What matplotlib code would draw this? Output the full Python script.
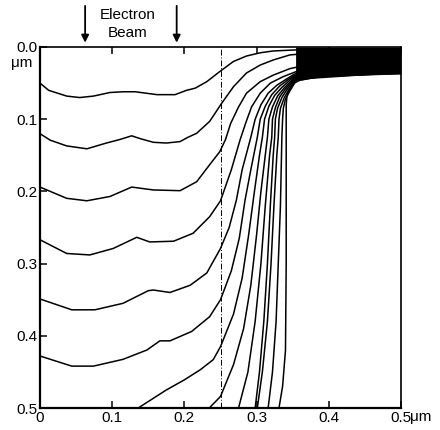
import matplotlib
matplotlib.use("Agg")
import matplotlib.pyplot as plt

plt.rcParams['font.family'] = ['Liberation Sans', 'DejaVu Sans']

# Development-front contours (x in um, depth in um)
front_01 = [(0.000, 0.050), (0.012, 0.060), (0.037, 0.068), (0.055, 0.070), (0.074, 0.068),
            (0.097, 0.063), (0.115, 0.062), (0.132, 0.062), (0.162, 0.066), (0.187, 0.066),
            (0.203, 0.060), (0.215, 0.057), (0.231, 0.048), (0.249, 0.034), (0.268, 0.020),
            (0.286, 0.0125), (0.305, 0.008), (0.323, 0.0055), (0.355, 0.004), (0.5, 0.003)]
front_02 = [(0.000, 0.120), (0.014, 0.129), (0.037, 0.137), (0.065, 0.141), (0.092, 0.133),
            (0.111, 0.128), (0.127, 0.123), (0.139, 0.127), (0.157, 0.132), (0.175, 0.133),
            (0.194, 0.131), (0.205, 0.125), (0.217, 0.1195), (0.235, 0.103), (0.2516, 0.078),
            (0.268, 0.055), (0.286, 0.036), (0.305, 0.025), (0.323, 0.018), (0.346, 0.011),
            (0.38, 0.008), (0.5, 0.006)]
front_03 = [(0.000, 0.194), (0.037, 0.2096), (0.065, 0.213), (0.097, 0.207), (0.127, 0.194),
            (0.157, 0.198), (0.194, 0.199), (0.217, 0.1866), (0.235, 0.163), (0.249, 0.145),
            (0.257, 0.128), (0.264, 0.106), (0.275, 0.083), (0.286, 0.064), (0.305, 0.048),
            (0.323, 0.039), (0.346, 0.030), (0.36, 0.027), (0.5, 0.012)]
front_04 = [(0.000, 0.267), (0.037, 0.286), (0.069, 0.288), (0.1015, 0.279), (0.134, 0.2636),
            (0.152, 0.270), (0.185, 0.269), (0.212, 0.258), (0.235, 0.235), (0.250, 0.213),
            (0.265, 0.170), (0.277, 0.129), (0.285, 0.105), (0.293, 0.083), (0.305, 0.064),
            (0.319, 0.050), (0.337, 0.041), (0.355, 0.034), (0.5, 0.016)]
front_05 = [(0.000, 0.349), (0.044, 0.364), (0.076, 0.364), (0.115, 0.355), (0.150, 0.3375),
            (0.157, 0.3366), (0.180, 0.340), (0.208, 0.330), (0.231, 0.313), (0.250, 0.279),
            (0.262, 0.250), (0.272, 0.212), (0.280, 0.170), (0.292, 0.125), (0.298, 0.100),
            (0.306, 0.080), (0.316, 0.064), (0.328, 0.053), (0.342, 0.044), (0.355, 0.036),
            (0.5, 0.019)]
front_06 = [(0.000, 0.428), (0.044, 0.442), (0.074, 0.442), (0.115, 0.4326), (0.148, 0.4197),
            (0.166, 0.407), (0.180, 0.407), (0.210, 0.394), (0.235, 0.3735), (0.250, 0.350),
            (0.265, 0.310), (0.276, 0.265), (0.284, 0.212), (0.292, 0.170), (0.301, 0.125),
            (0.305, 0.100), (0.312, 0.082), (0.321, 0.066), (0.332, 0.054), (0.344, 0.045),
            (0.355, 0.038), (0.5, 0.022)]
front_07 = [(0.136, 0.500), (0.175, 0.475), (0.200, 0.461), (0.222, 0.447), (0.240, 0.433),
            (0.250, 0.415), (0.268, 0.370), (0.280, 0.320), (0.289, 0.260), (0.297, 0.200),
            (0.304, 0.150), (0.308, 0.125), (0.311, 0.100), (0.317, 0.082), (0.325, 0.067),
            (0.335, 0.056), (0.346, 0.046), (0.355, 0.039), (0.5, 0.025)]
front_08 = [(0.2345, 0.500), (0.250, 0.484), (0.268, 0.440), (0.282, 0.390), (0.292, 0.330),
            (0.300, 0.260), (0.306, 0.200), (0.312, 0.150), (0.315, 0.125), (0.317, 0.100),
            (0.322, 0.083), (0.329, 0.068), (0.338, 0.057), (0.348, 0.047), (0.355, 0.040),
            (0.5, 0.027)]
front_09 = [(0.275, 0.500), (0.288, 0.450), (0.298, 0.380), (0.306, 0.300), (0.312, 0.220),
            (0.318, 0.150), (0.321, 0.125), (0.322, 0.100), (0.326, 0.084), (0.332, 0.069),
            (0.340, 0.058), (0.349, 0.048), (0.355, 0.041), (0.5, 0.029)]
front_10 = [(0.298, 0.500), (0.304, 0.450), (0.310, 0.380), (0.315, 0.300), (0.319, 0.220),
            (0.323, 0.150), (0.325, 0.125), (0.326, 0.100), (0.329, 0.085), (0.335, 0.070),
            (0.342, 0.059), (0.350, 0.049), (0.355, 0.042), (0.5, 0.031)]
front_11 = [(0.301, 0.500), (0.308, 0.450), (0.315, 0.380), (0.320, 0.300), (0.324, 0.220),
            (0.328, 0.150), (0.330, 0.125), (0.331, 0.100), (0.333, 0.085), (0.338, 0.071),
            (0.344, 0.060), (0.351, 0.050), (0.355, 0.043), (0.5, 0.033)]
front_12 = [(0.316, 0.500), (0.322, 0.450), (0.327, 0.380), (0.330, 0.300), (0.333, 0.220),
            (0.335, 0.125), (0.336, 0.100), (0.337, 0.085), (0.340, 0.072), (0.346, 0.061),
            (0.352, 0.051), (0.356, 0.0445), (0.5, 0.035)]
front_13 = [(0.331, 0.500), (0.336, 0.470), (0.340, 0.420), (0.341, 0.300), (0.341, 0.125),
            (0.341, 0.100), (0.341, 0.080), (0.342, 0.068), (0.346, 0.058), (0.352, 0.050),
            (0.360, 0.046), (0.388, 0.041), (0.434, 0.039), (0.5, 0.037)]

fronts = [front_01, front_02, front_03, front_04, front_05, front_06, front_07,
          front_08, front_09, front_10, front_11, front_12, front_13]

# Dense band of fronts along the unexposed surface
band_x = [0.354, 0.360, 0.388, 0.434, 0.5]
band_bottom = [0.046, 0.046, 0.041, 0.039, 0.037]

beam_edges = [0.0625, 0.1893]
mask_edge = 0.25

x_ticks = [0, 0.1, 0.2, 0.3, 0.4, 0.5]
x_labels = ['0', '0.1', '0.2', '0.3', '0.4', '0.5']
y_ticks = [0.0, 0.1, 0.2, 0.3, 0.4, 0.5]
y_labels = ['0.0', '0.1', '0.2', '0.3', '0.4', '0.5']

fig = plt.figure(figsize=(4.4, 4.3), dpi=100)
ax = fig.add_axes([40 / 440, 22 / 430, 361 / 440, 361 / 430])

for f in fronts:
    xs = [p[0] for p in f]
    ys = [p[1] for p in f]
    ax.plot(xs, ys, color='black', lw=1.1, solid_joinstyle='round')

ax.fill_between(band_x, 0, band_bottom, color='black', lw=0)

ax.axvline(mask_edge, color='black', lw=0.7, linestyle=(0, (6, 2, 1, 2)))

ax.set_xlim(0, 0.5)
ax.set_ylim(0.5, 0)
ax.set_xticks(x_ticks)
ax.set_xticklabels(x_labels)
ax.set_yticks(y_ticks)
ax.set_yticklabels(y_labels)
ax.tick_params(direction='in', length=5, width=1.1, labelsize=11, pad=2,
               top=True, right=False)
for side in ['left', 'bottom', 'right', 'top']:
    ax.spines[side].set_linewidth(1.2)
ax.spines['left'].set_linewidth(1.6)
ax.spines['bottom'].set_linewidth(1.6)

# unit labels
ax.text(-0.011, 0.022, 'μm', ha='right', va='center', fontsize=11)
ax.text(0.513, -0.005, 'μm', transform=ax.get_xaxis_transform(),
        ha='left', va='top', fontsize=11)

# beam arrows and label
for xb in beam_edges:
    ax.annotate('', xy=(xb, -0.006), xytext=(xb, -0.057), xycoords='data',
                annotation_clip=False,
                arrowprops=dict(arrowstyle='-|>', color='black', lw=1.3,
                                mutation_scale=11, shrinkA=0, shrinkB=0))
ax.text(0.121, -0.045, 'Electron', ha='center', va='center', fontsize=11)
ax.text(0.121, -0.019, 'Beam', ha='center', va='center', fontsize=11)

fig.savefig('out.png', dpi=100)
